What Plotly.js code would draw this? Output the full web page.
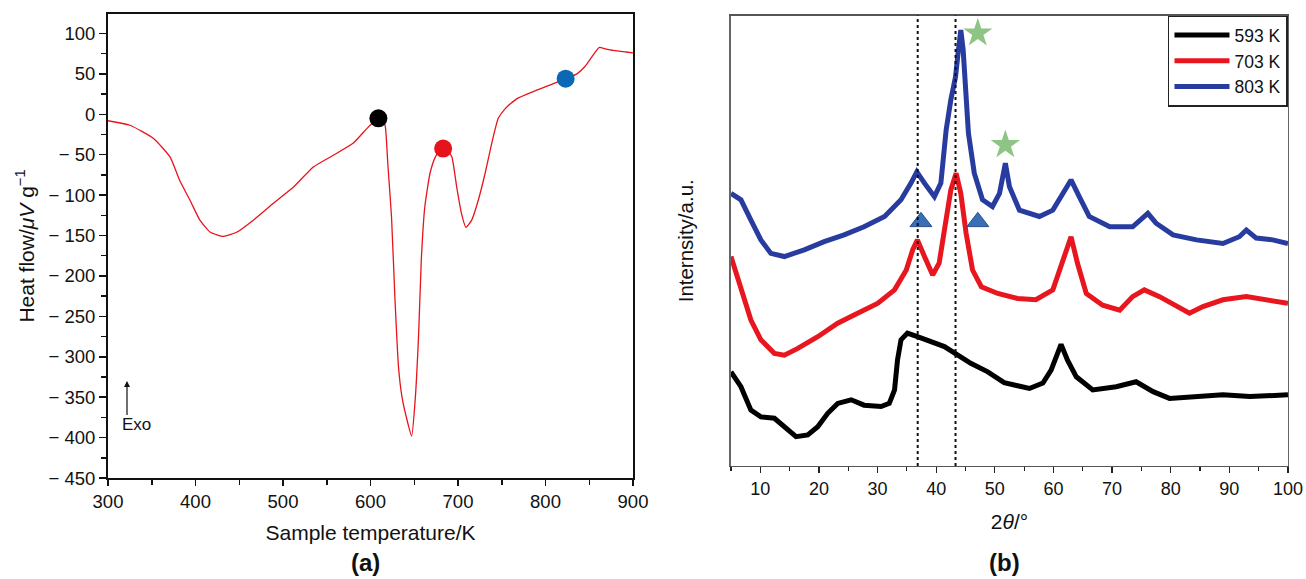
<!DOCTYPE html>
<html>
<head>
<meta charset="utf-8">
<script src="https://cdn.plot.ly/plotly-3.0.1.min.js"></script>
<style>html,body{margin:0;padding:0;background:#fff;}#chart{width:1306px;height:579px;}</style>
</head>
<body>
<div id="chart"></div>
<script>
// ---------- Panel (a): DSC heat flow ----------
const dscTemp = [300, 325, 352, 371, 382, 394, 405, 417, 432, 447, 466, 489, 512, 535, 557, 580, 596, 604, 609, 614, 617, 620, 624, 628, 632, 636, 641, 647, 651, 655, 658, 662, 668, 674, 679, 683, 688, 693, 698.5, 704, 709, 715.6, 723, 731, 738.5, 746, 754, 767, 786, 805, 823, 836, 845, 853, 861.5, 868, 877.5, 892, 900];
const dscHeat = [-8, -13.6, -30, -53, -82, -107, -131, -146, -151, -146, -131, -110, -90, -65, -51, -36, -17.5, -9, -4, -5, -16, -65, -127, -230, -313, -350, -375, -398, -354, -272, -181, -115, -73, -53, -45, -42, -45, -53, -90, -123, -140, -131, -107, -73, -36, -5, 7, 19, 28, 36, 44, 50, 59, 71, 82.6, 81, 79, 77, 76];
const dotTemp = [609, 683, 823];
const dotHeat = [-5, -42.5, 44];
const dotColors = ['#000000', '#e5141c', '#0a68b4'];
const heatTickVals = [100, 50, 0, -50, -100, -150, -200, -250, -300, -350, -400, -450];
const heatTickText = ['100', '50', '0', '\u2212 50', '\u2212 100', '\u2212 150', '\u2212 200', '\u2212 250', '\u2212 300', '\u2212 350', '\u2212 400', '\u2212 450'];
const tempTickVals = [300, 400, 500, 600, 700, 800, 900];

// ---------- Panel (b): XRD patterns ----------
const seriesNames = ['593 K', '703 K', '803 K'];
const xrd593x = [5, 6.7, 8.4, 10.1, 12.4, 14.1, 16.1, 18.1, 19.8, 21.5, 23.2, 25.5, 27.7, 30.6, 32.0, 32.9, 33.4, 34.0, 35.1, 36.8, 39.1, 41.4, 43.7, 45.9, 48.8, 51.6, 55.9, 58.2, 59.6, 61.3, 62.4, 63.9, 66.7, 70.7, 74.1, 77.0, 79.8, 84.4, 88.9, 93.5, 100];
const xrd593y = [20.9, 17.6, 12.4, 10.9, 10.6, 8.7, 6.5, 6.9, 8.7, 11.7, 13.9, 14.7, 13.5, 13.2, 13.9, 16.9, 23.5, 28, 29.5, 28.7, 27.6, 26.5, 24.6, 22.8, 20.9, 18.5, 17.2, 18.4, 21.3, 27.0, 23.5, 19.8, 16.9, 17.6, 18.7, 16.5, 15.0, 15.4, 15.8, 15.4, 15.8];
const xrd703x = [5, 6.7, 8.4, 10.1, 12.4, 14.1, 16.4, 19.8, 23.2, 26.6, 30.0, 32.9, 34.9, 36.0, 36.8, 38.0, 39.4, 40.5, 41.7, 42.5, 43.4, 44.2, 45.1, 46.2, 47.7, 50.5, 53.9, 57.0, 59.9, 61.6, 63.0, 64.1, 65.6, 68.4, 71.3, 73.5, 75.5, 78.1, 80.9, 83.2, 85.5, 88.9, 92.9, 96.3, 100];
const xrd703y = [46.5, 39.1, 32.4, 28.0, 25.0, 24.6, 26.1, 28.7, 31.7, 33.9, 36.1, 39.1, 43.5, 48.0, 50.2, 46.5, 42.4, 45.0, 53.9, 61.3, 65.0, 60.5, 51.7, 43.5, 39.8, 38.3, 37.2, 36.9, 39.1, 45.7, 50.9, 45.0, 38.3, 35.7, 34.6, 37.6, 39.1, 37.6, 35.4, 33.9, 35.4, 36.9, 37.6, 36.9, 36.1];
const xrd803x = [5, 6.7, 8.4, 10.1, 11.8, 14.1, 17.5, 20.9, 24.3, 27.7, 31.2, 34.0, 35.7, 36.7, 38.0, 39.7, 40.8, 41.7, 42.5, 43.3, 43.8, 44.2, 44.6, 45.0, 45.5, 46.5, 47.9, 49.6, 50.8, 51.8, 52.5, 54.2, 57.6, 59.9, 61.6, 63.0, 64.4, 66.1, 69.6, 73.5, 76.1, 77.5, 80.4, 84.4, 88.9, 91.7, 92.9, 94.6, 97.4, 100];
const xrd803y = [60.5, 59.1, 54.6, 50.2, 47.2, 46.5, 48.0, 49.8, 51.3, 53.1, 55.4, 59.1, 62.8, 65.3, 62.8, 59.8, 62.8, 74.6, 81.3, 86.4, 92.4, 96.8, 92.4, 84.2, 73.9, 65.0, 59.1, 57.6, 60.5, 67.2, 62.0, 56.8, 55.4, 56.8, 60.5, 63.5, 59.8, 55.4, 53.1, 53.1, 56.1, 53.9, 51.3, 50.2, 49.4, 50.9, 52.4, 50.6, 50.2, 49.4];
const seriesColors = ['#000000', '#e8161e', '#273c9e'];
const triangleX = [37.4, 47.1];
const triangleY = [54.2, 54.2];
const starX = [47.1, 51.8];
const starY = [96.1, 71.3];
const refLineX = [36.85, 43.3];
const angleTickVals = [10, 20, 30, 40, 50, 60, 70, 80, 90, 100];

const FONT = 'Liberation Sans, Arial, Helvetica, sans-serif';

const traces = [
  {x: dscTemp, y: dscHeat, type: 'scatter', mode: 'lines', xaxis: 'x', yaxis: 'y',
   line: {color: '#e8141c', width: 1.3, shape: 'spline', smoothing: 0.5}, showlegend: false, hoverinfo: 'skip'},
  {x: dotTemp, y: dotHeat, type: 'scatter', mode: 'markers', xaxis: 'x', yaxis: 'y',
   marker: {color: dotColors, size: 18, line: {width: 0}}, showlegend: false},
  {x: xrd593x, y: xrd593y, type: 'scatter', mode: 'lines', xaxis: 'x2', yaxis: 'y2',
   name: seriesNames[0], legendgroup: 'a', line: {color: seriesColors[0], width: 5}},
  {x: xrd703x, y: xrd703y, type: 'scatter', mode: 'lines', xaxis: 'x2', yaxis: 'y2',
   name: seriesNames[1], legendgroup: 'b', line: {color: seriesColors[1], width: 5}},
  {x: xrd803x, y: xrd803y, type: 'scatter', mode: 'lines', xaxis: 'x2', yaxis: 'y2',
   name: seriesNames[2], legendgroup: 'c', line: {color: seriesColors[2], width: 5}},
  {x: triangleX, y: triangleY, type: 'scatter', mode: 'markers', xaxis: 'x2', yaxis: 'y2',
   marker: {symbol: 'triangle-up', size: 19, color: '#3a6fb6', line: {color: '#24508f', width: 1}}, showlegend: false},
  {x: starX, y: starY, type: 'scatter', mode: 'markers', xaxis: 'x2', yaxis: 'y2',
   marker: {symbol: 'star', size: 22, color: '#8fc584', line: {width: 0}}, showlegend: false}
];

const shapes = refLineX.map(v => ({
  type: 'line', xref: 'x2', yref: 'y2 domain', x0: v, x1: v, y0: 0, y1: 1,
  line: {color: '#111', width: 2, dash: 'dot'}
}));

const layout = {
  width: 1306, height: 579,
  margin: {l: 0, r: 0, t: 0, b: 0},
  paper_bgcolor: '#fff', plot_bgcolor: '#fff',
  font: {family: FONT, color: '#111', size: 16},
  showlegend: true,
  legend: {x: 0.9862, xanchor: 'right', y: 0.973, yanchor: 'top',
           bordercolor: '#222', borderwidth: 1.5, bgcolor: '#fff',
           font: {family: FONT, size: 17.5, color: '#111'},
           itemwidth: 55,
           traceorder: 'grouped', tracegroupgap: 0},
  xaxis: {domain: [0.0827, 0.4847], anchor: 'y', range: [300, 900],
          tickvals: tempTickVals, ticks: 'outside', ticklen: 6, tickwidth: 1.5, tickcolor: '#111',
          minor: {dtick: 50, ticks: 'outside', ticklen: 5, tickwidth: 1.5, tickcolor: '#111'},
          showline: true, linecolor: '#111', linewidth: 2, mirror: true, showgrid: false, zeroline: false,
          tickfont: {size: 18.5, family: FONT},
          title: {text: 'Sample temperature/K', font: {size: 21, family: FONT}, standoff: 14}},
  yaxis: {domain: [0.1744, 0.9758], anchor: 'x', range: [-450, 124],
          tickvals: heatTickVals, ticktext: heatTickText, ticks: 'outside', ticklen: 7, tickwidth: 1.5, tickcolor: '#111',
          minor: {dtick: 25, ticks: 'outside', ticklen: 5, tickwidth: 1.5, tickcolor: '#111'},
          showline: true, linecolor: '#111', linewidth: 2, mirror: true, showgrid: false, zeroline: false,
          tickfont: {size: 18.5, family: FONT},
          title: {text: 'Heat flow/<i>\u03bcV</i> g<sup>\u22121</sup>', font: {size: 21, family: FONT}, standoff: 8}},
  xaxis2: {domain: [0.5597, 0.9862], anchor: 'y2', range: [5, 100],
           tickvals: angleTickVals, ticks: 'outside', ticklen: 6, tickwidth: 1.2, tickcolor: '#222',
           minor: {dtick: 5, ticks: 'outside', ticklen: 4, tickwidth: 1.2, tickcolor: '#222'},
           showline: true, linecolor: '#555', linewidth: 1.5, mirror: true, showgrid: false, zeroline: false,
           tickfont: {size: 18, family: FONT},
           title: {text: '2<i>\u03b8</i>/\u00b0', font: {size: 21, family: FONT}, standoff: 16}},
  yaxis2: {domain: [0.1952, 0.9731], anchor: 'x2', range: [0, 100],
           showticklabels: false, ticks: '', showline: true, linecolor: '#666', linewidth: 1.5, mirror: true,
           showgrid: false, zeroline: false,
           title: {text: 'Internsity/a.u.', font: {size: 20.5, family: FONT}, standoff: 30}},
  shapes: shapes,
  annotations: [
    {xref: 'x', yref: 'y', x: 321.7, y: -330, ax: 321.7, ay: -374, axref: 'x', ayref: 'y',
     text: '', showarrow: true, arrowhead: 2, arrowsize: 1, arrowwidth: 1.2, arrowcolor: '#111'},
    {xref: 'x', yref: 'y', x: 314, y: -384, text: 'Exo', showarrow: false, xanchor: 'left', yanchor: 'middle',
     font: {size: 17, family: FONT, color: '#111'}},
    {xref: 'paper', yref: 'paper', x: 0.2795, y: 0.029, text: '<b>(a)</b>', showarrow: false,
     xanchor: 'center', yanchor: 'middle', font: {size: 24, family: FONT, color: '#111'}},
    {xref: 'paper', yref: 'paper', x: 0.7695, y: 0.029, text: '<b>(b)</b>', showarrow: false,
     xanchor: 'center', yanchor: 'middle', font: {size: 24, family: FONT, color: '#111'}}
  ]
};

Plotly.newPlot('chart', traces, layout, {displayModeBar: false, staticPlot: true});
</script>
</body>
</html>
